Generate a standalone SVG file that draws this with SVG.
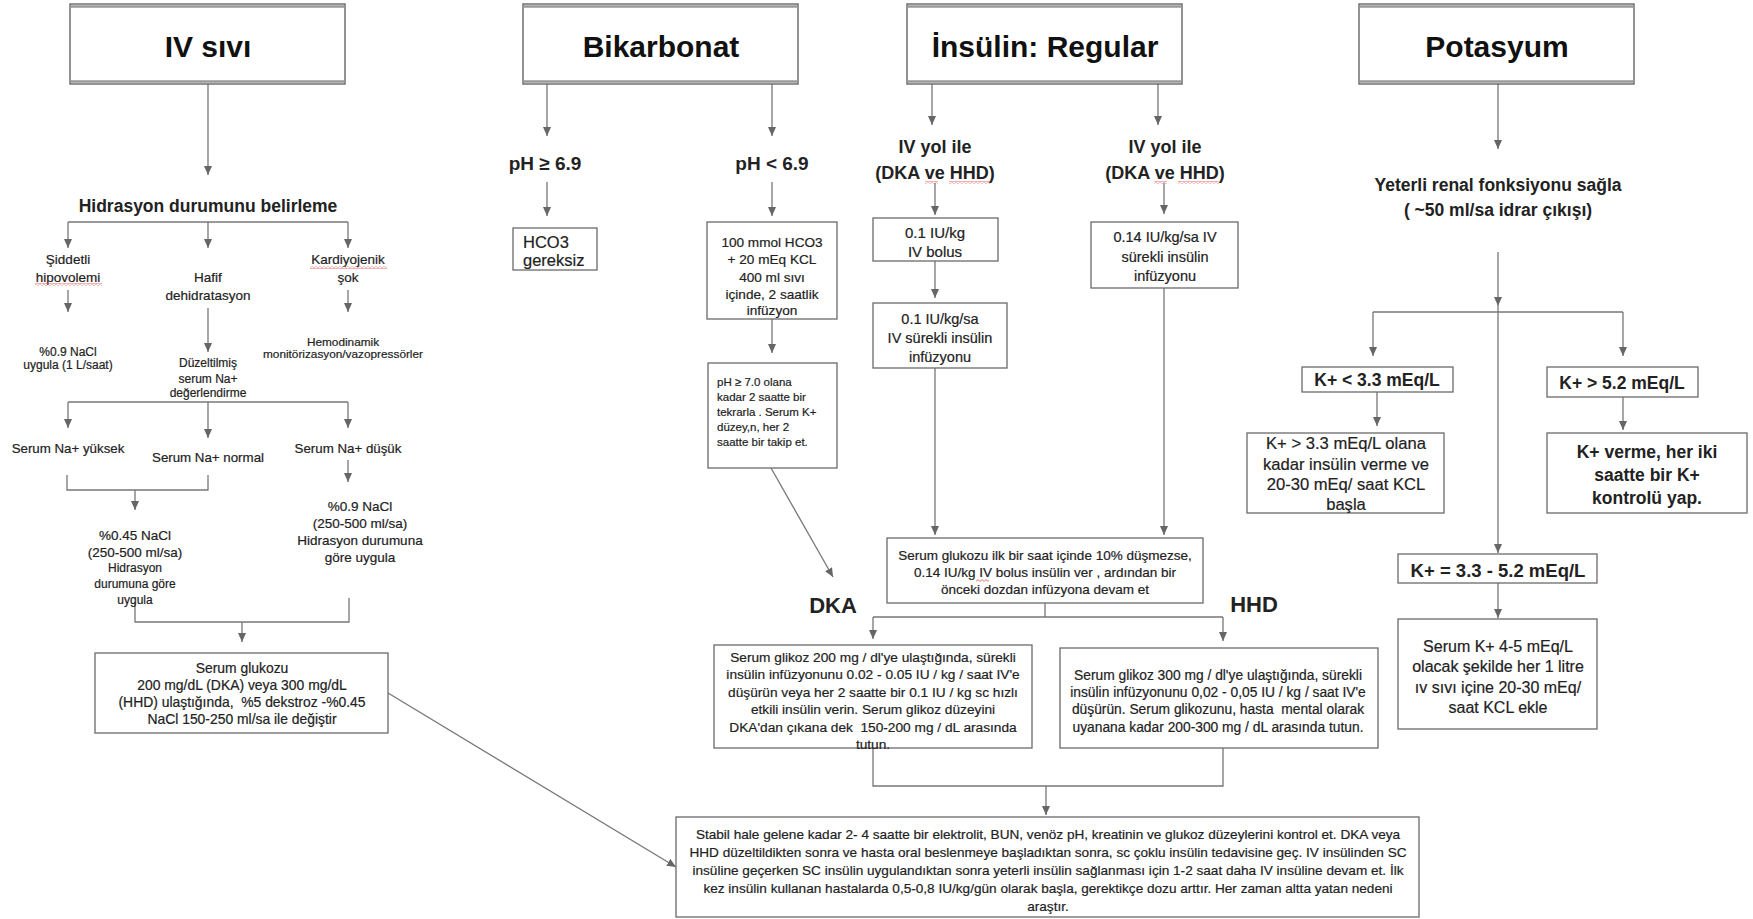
<svg xmlns="http://www.w3.org/2000/svg" width="1753" height="919" viewBox="0 0 1753 919">
<defs>
<style>
text{font-family:"Liberation Sans",Arial,sans-serif;fill:#222;stroke:#222;stroke-width:0.2;text-anchor:middle}
.bx{fill:#fff;stroke:#6a6a6a;stroke-width:1.3}
.hb{fill:#fff;stroke:#5a5a5a;stroke-width:1.3}
.hbar{stroke:#9a9a9a;stroke-width:2.5}
.c{fill:none;stroke:#777;stroke-width:1.3}
.a{marker-end:url(#ah)}
.hd{font-size:30px;font-weight:700;fill:#111;stroke:none}
.bd{font-weight:700;stroke:none}
.l{text-anchor:start}
.sq{fill:url(#sq)}
</style>
<marker id="ah" viewBox="0 0 9 8" refX="9" refY="4" markerWidth="9" markerHeight="8" markerUnits="userSpaceOnUse" orient="auto"><path d="M0,0 L9,4 L0,8 z" fill="#666"/></marker>
<pattern id="sq" width="4" height="3" patternUnits="userSpaceOnUse"><path d="M0,2.4 L2,0.6 L4,2.4" fill="none" stroke="#e05050" stroke-width="0.8"/></pattern>
</defs>
<rect width="1753" height="919" fill="#fff"/>

<g id="connectors">
<!-- IV sivi -->
<path class="c a" d="M208 84 V175"/>
<path class="c a" d="M68 222 V248"/>
<path class="c" d="M68 222 H348"/>
<path class="c a" d="M208 222 V248"/>
<path class="c a" d="M348 222 V248"/>
<path class="c a" d="M68 290 V312"/>
<path class="c a" d="M208 308 V352"/>
<path class="c a" d="M348 290 V312"/>
<path class="c" d="M68 402 H348"/>
<path class="c a" d="M68 402 V428"/>
<path class="c a" d="M208 402 V438"/>
<path class="c a" d="M348 402 V428"/>
<path class="c" d="M67 475 V490 H208 V475"/>
<path class="c a" d="M135 490 V510"/>
<path class="c a" d="M348 460 V482"/>
<path class="c" d="M135 602 V622 H349 V598"/>
<path class="c a" d="M242 622 V642"/>
<path class="c a" d="M388 693 L676 867"/>
<!-- Bikarbonat -->
<path class="c a" d="M547 84 V136"/>
<path class="c a" d="M772 84 V136"/>
<path class="c a" d="M547 182 V216"/>
<path class="c a" d="M772 182 V216"/>
<path class="c a" d="M772 319 V353"/>
<path class="c a" d="M771 468 L833 577"/>
<!-- Insulin -->
<path class="c a" d="M932 84 V125"/>
<path class="c a" d="M1158 84 V125"/>
<path class="c a" d="M935 183 V215"/>
<path class="c a" d="M1164 183 V214"/>
<path class="c a" d="M935 261 V298"/>
<path class="c a" d="M935 368 V535"/>
<path class="c a" d="M1164 288 V535"/>
<path class="c" d="M1045 603 V617 M873 617 H1223"/>
<path class="c a" d="M873 617 V639"/>
<path class="c a" d="M1223 617 V641"/>
<path class="c" d="M873 748 V786 H1223 V748"/>
<path class="c a" d="M1046 786 V815"/>
<!-- Potasyum -->
<path class="c a" d="M1498 84 V149"/>
<path class="c a" d="M1498 252 V306"/>
<path class="c a" d="M1498 306 V553"/>
<path class="c" d="M1373 312 H1623"/>
<path class="c a" d="M1373 312 V356"/>
<path class="c a" d="M1623 312 V356"/>
<path class="c a" d="M1377 392 V426"/>
<path class="c a" d="M1623 397 V430"/>
<path class="c a" d="M1498 583 V618"/>
</g>

<!-- Headers -->
<g id="hdr-iv"><rect class="hb" x="70" y="4" width="275" height="80"/><path class="hbar" d="M71 6.5 H344 M71 81.5 H344"/><text class="hd" x="208" y="57">IV sıvı</text></g>
<g id="hdr-bik"><rect class="hb" x="523" y="4" width="275" height="80"/><path class="hbar" d="M524 6.5 H797 M524 81.5 H797"/><text class="hd" x="661" y="57">Bikarbonat</text></g>
<g id="hdr-ins"><rect class="hb" x="907" y="4" width="275" height="80"/><path class="hbar" d="M908 6.5 H1181 M908 81.5 H1181"/><text class="hd" x="1045" y="57">İnsülin: Regular</text></g>
<g id="hdr-pot"><rect class="hb" x="1359" y="4" width="275" height="80"/><path class="hbar" d="M1360 6.5 H1633 M1360 81.5 H1633"/><text class="hd" x="1497" y="57">Potasyum</text></g>

<!-- IV sivi column -->
<g id="n-hidr"><text class="bd" x="208" y="212" font-size="17.5">Hidrasyon durumunu belirleme</text></g>
<g id="n-siddetli"><text font-size="13.5"><tspan x="68" y="264">Şiddetli</tspan><tspan x="68" y="282">hipovolemi</tspan></text><rect class="sq" x="35" y="283" width="67" height="3"/></g>
<g id="n-hafif"><text font-size="13.5"><tspan x="208" y="282">Hafif</tspan><tspan x="208" y="300">dehidratasyon</tspan></text></g>
<g id="n-kardiyo"><text font-size="13.5"><tspan x="348" y="264">Kardiyojenik</tspan><tspan x="348" y="282">şok</tspan></text><rect class="sq" x="310" y="266" width="77" height="3"/></g>
<g id="n-nacl09"><text font-size="12"><tspan x="68" y="356">%0.9 NaCl</tspan><tspan x="68" y="368.5">uygula (1 L/saat)</tspan></text></g>
<g id="n-duzelt"><text font-size="12"><tspan x="208" y="367">Düzeltilmiş</tspan><tspan x="208" y="383">serum Na+</tspan><tspan x="208" y="397">değerlendirme</tspan></text></g>
<g id="n-hemo"><text font-size="11.8"><tspan x="343" y="346">Hemodinamik</tspan><tspan x="343" y="357.5">monitörizasyon/vazopressörler</tspan></text></g>
<g id="n-nay"><text x="68" y="453" font-size="13.3">Serum Na+ yüksek</text></g>
<g id="n-nan"><text x="208" y="462" font-size="13.3">Serum Na+ normal</text></g>
<g id="n-nad"><text x="348" y="453" font-size="13.3">Serum Na+ düşük</text></g>
<g id="n-045"><text font-size="13.5"><tspan x="135" y="540">%0.45 NaCl</tspan><tspan x="135" y="557">(250-500 ml/sa)</tspan></text><text font-size="12"><tspan x="135" y="572">Hidrasyon</tspan><tspan x="135" y="588">durumuna göre</tspan><tspan x="135" y="604">uygula</tspan></text></g>
<g id="n-09b"><text font-size="13.5"><tspan x="360" y="511">%0.9 NaCl</tspan><tspan x="360" y="528">(250-500 ml/sa)</tspan><tspan x="360" y="545">Hidrasyon durumuna</tspan><tspan x="360" y="562">göre uygula</tspan></text></g>
<g id="n-glukoz-iv"><rect class="bx" x="95" y="653" width="293" height="80"/><text font-size="13.9" style="white-space:pre"><tspan x="242" y="673">Serum glukozu</tspan><tspan x="242" y="690">200 mg/dL (DKA) veya 300 mg/dL</tspan><tspan x="242" y="707">(HHD) ulaştığında,  %5 dekstroz -%0.45</tspan><tspan x="242" y="724">NaCl 150-250 ml/sa ile değiştir</tspan></text></g>

<!-- Bikarbonat column -->
<g id="n-ph69"><text class="bd" x="545" y="170" font-size="19">pH ≥ 6.9</text></g>
<g id="n-phlt"><text class="bd" x="772" y="170" font-size="19">pH &lt; 6.9</text></g>
<g id="n-hco3"><rect class="bx" x="513" y="228" width="84" height="42"/><text class="l" font-size="16.5"><tspan x="523" y="247.5">HCO3</tspan><tspan x="523" y="266">gereksiz</tspan></text></g>
<g id="n-100mmol"><rect class="bx" x="707" y="222" width="130" height="97"/><text font-size="13.6"><tspan x="772" y="246.5">100 mmol HCO3</tspan><tspan x="772" y="264">+ 20 mEq KCL</tspan><tspan x="772" y="281.5">400 ml sıvı</tspan><tspan x="772" y="299">içinde, 2 saatlik</tspan><tspan x="772" y="315">infüzyon</tspan></text></g>
<g id="n-ph70"><rect class="bx" x="708" y="363" width="129" height="105"/><text class="l" font-size="11.5"><tspan x="717" y="386">pH ≥ 7.0 olana</tspan><tspan x="717" y="401">kadar 2 saatte bir</tspan><tspan x="717" y="416">tekrarla . Serum K+</tspan><tspan x="717" y="431">düzey,n, her 2</tspan><tspan x="717" y="446">saatte bir takip et.</tspan></text></g>

<!-- Insulin column -->
<g id="n-ivyol1"><text class="bd" font-size="18"><tspan x="935" y="153">IV yol ile</tspan><tspan x="935" y="179">(DKA ve HHD)</tspan></text><rect class="sq" x="925" y="181" width="13" height="3"/><rect class="sq" x="949" y="181" width="41" height="3"/></g>
<g id="n-ivyol2"><text class="bd" font-size="18"><tspan x="1165" y="153">IV yol ile</tspan><tspan x="1165" y="179">(DKA ve HHD)</tspan></text><rect class="sq" x="1154" y="181" width="13" height="3"/><rect class="sq" x="1178" y="181" width="41" height="3"/></g>
<g id="n-bolus"><rect class="bx" x="873" y="218" width="125" height="43"/><text font-size="15"><tspan x="935" y="238">0.1 IU/kg</tspan><tspan x="935" y="257">IV bolus</tspan></text></g>
<g id="n-inf1"><rect class="bx" x="873" y="303" width="134" height="65"/><text font-size="14.5"><tspan x="940" y="324">0.1 IU/kg/sa</tspan><tspan x="940" y="343">IV sürekli insülin</tspan><tspan x="940" y="362">infüzyonu</tspan></text></g>
<g id="n-inf2"><rect class="bx" x="1091" y="222" width="147" height="66"/><text font-size="14.5"><tspan x="1165" y="242">0.14 IU/kg/sa IV</tspan><tspan x="1165" y="262">sürekli insülin</tspan><tspan x="1165" y="281">infüzyonu</tspan></text></g>
<g id="n-glc"><rect class="bx" x="887" y="538" width="316" height="65"/><text font-size="13.5"><tspan x="1045" y="560">Serum glukozu ilk bir saat içinde 10% düşmezse,</tspan><tspan x="1045" y="577">0.14 IU/kg IV bolus insülin ver , ardından bir</tspan><tspan x="1045" y="594">önceki dozdan infüzyona devam et</tspan></text><rect class="sq" x="976" y="579" width="13" height="3"/></g>
<g id="lbl-dka"><text class="bd" x="833" y="613" font-size="22">DKA</text></g>
<g id="lbl-hhd"><text class="bd" x="1254" y="612" font-size="22">HHD</text></g>
<g id="n-dka"><rect class="bx" x="714" y="645" width="318" height="103"/><text font-size="13.7" style="white-space:pre"><tspan x="873" y="661.5">Serum glikoz 200 mg / dl'ye ulaştığında, sürekli</tspan><tspan x="873" y="679">insülin infüzyonunu 0.02 - 0.05 IU / kg / saat IV'e</tspan><tspan x="873" y="696.5">düşürün veya her 2 saatte bir 0.1 IU / kg sc hızlı</tspan><tspan x="873" y="714">etkili insülin verin. Serum glikoz düzeyini</tspan><tspan x="873" y="731.5">DKA'dan çıkana dek  150-200 mg / dL arasında</tspan><tspan x="873" y="749">tutun.</tspan></text></g>
<g id="n-hhd"><rect class="bx" x="1060" y="648" width="318" height="100"/><text font-size="13.8" style="white-space:pre"><tspan x="1218" y="679.5">Serum glikoz 300 mg / dl'ye ulaştığında, sürekli</tspan><tspan x="1218" y="696.5">insülin infüzyonunu 0,02 - 0,05 IU / kg / saat IV'e</tspan><tspan x="1218" y="713.5">düşürün. Serum glikozunu, hasta  mental olarak</tspan><tspan x="1218" y="731.5">uyanana kadar 200-300 mg / dL arasında tutun.</tspan></text></g>
<g id="n-final"><rect class="bx" x="676" y="817" width="743" height="100"/><text font-size="13.6"><tspan x="1048" y="838.5">Stabil hale gelene kadar 2- 4 saatte bir elektrolit, BUN, venöz pH, kreatinin ve glukoz düzeylerini kontrol et. DKA veya</tspan><tspan x="1048" y="856.5">HHD düzeltildikten sonra ve hasta oral beslenmeye başladıktan sonra, sc çoklu insülin tedavisine geç. IV insülinden SC</tspan><tspan x="1048" y="874.5">insüline geçerken SC insülin uygulandıktan sonra yeterli insülin sağlanması için 1-2 saat daha IV insüline devam et. İlk</tspan><tspan x="1048" y="892.5">kez insülin kullanan hastalarda 0,5-0,8 IU/kg/gün olarak başla, gerektikçe dozu arttır. Her zaman altta yatan nedeni</tspan><tspan x="1048" y="910.5">araştır.</tspan></text></g>

<!-- Potasyum column -->
<g id="n-renal"><text class="bd" font-size="17.5"><tspan x="1498" y="191">Yeterli renal fonksiyonu sağla</tspan><tspan x="1498" y="216">( ~50 ml/sa idrar çıkışı)</tspan></text></g>
<g id="n-klt"><rect class="bx" x="1302" y="367" width="151" height="25"/><text class="bd" x="1377" y="386" font-size="17.5">K+ &lt; 3.3 mEq/L</text></g>
<g id="n-kgt"><rect class="bx" x="1547" y="367" width="151" height="30"/><text class="bd" x="1622" y="389" font-size="17.5">K+ &gt; 5.2 mEq/L</text></g>
<g id="n-klt-act"><rect class="bx" x="1247" y="433" width="197" height="80"/><text font-size="16.6"><tspan x="1346" y="449">K+ &gt; 3.3 mEq/L olana</tspan><tspan x="1346" y="470">kadar insülin verme ve</tspan><tspan x="1346" y="490">20-30 mEq/ saat KCL</tspan><tspan x="1346" y="510">başla</tspan></text></g>
<g id="n-kgt-act"><rect class="bx" x="1547" y="433" width="200" height="80"/><text class="bd" font-size="17.5" fill="#2a2a2a"><tspan x="1647" y="458">K+ verme, her iki</tspan><tspan x="1647" y="481">saatte bir K+</tspan><tspan x="1647" y="504">kontrolü yap.</tspan></text></g>
<g id="n-kmid"><rect class="bx" x="1398" y="554" width="199" height="29"/><text class="bd" x="1498" y="577" font-size="18.5">K+ = 3.3 - 5.2 mEq/L</text></g>
<g id="n-kmid-act"><rect class="bx" x="1398" y="619" width="199" height="110"/><text font-size="16"><tspan x="1498" y="652">Serum K+ 4-5 mEq/L</tspan><tspan x="1498" y="672">olacak şekilde her 1 litre</tspan><tspan x="1498" y="693">ıv sıvı içine 20-30 mEq/</tspan><tspan x="1498" y="713">saat KCL ekle</tspan></text></g>
</svg>
